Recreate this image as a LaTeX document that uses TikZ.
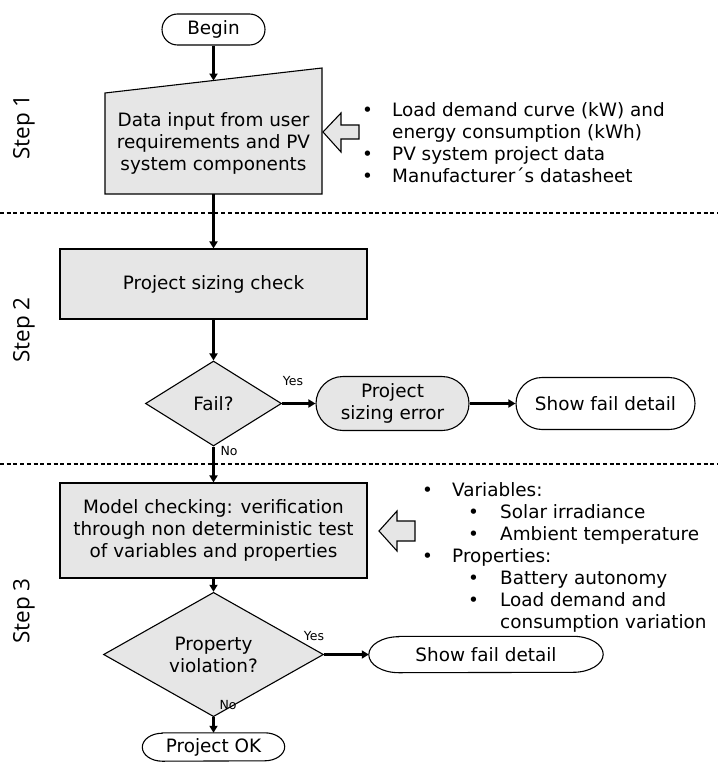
\documentclass[tikz,border=0pt]{standalone}
\usepackage{fontspec}
\setmainfont{DejaVu Sans}
\newfontfamily\stepfont{Open Sans}
\usetikzlibrary{arrows.meta,shapes.geometric}
\definecolor{boxgray}{HTML}{E6E6E6}
\begin{document}
\begin{tikzpicture}[x=1pt,y=-1pt,
  every node/.style={font=\fontsize{18.4}{22}\selectfont, inner sep=0pt},
  outline/.style={draw, line width=1.1pt},
  box/.style={outline, fill=boxgray, minimum width=307pt, align=center},
  pill/.style={outline, align=center},
  decision/.style={outline, fill=boxgray, diamond, align=center},
  arr/.style={line width=2.5pt, -{Triangle[length=7pt,width=8pt]}},
  lbl/.style={font=\fontsize{12.5}{15}\selectfont},
  stepl/.style={font=\stepfont\fontsize{22.5}{26}\selectfont, rotate=90},
  dashline/.style={line width=1.2pt, dash pattern=on 4pt off 2.7pt},
  hollow/.style={outline, fill=boxgray},
  listtext/.style={anchor=base west, align=left}
]
\useasboundingbox (0,0) rectangle (718,778);

% separators
\draw[dashline] (0,213) -- (718,213);
\draw[dashline] (0,464) -- (718,464);

% step labels
\node[stepl] (s1) at (24,127) {Step 1};
\node[stepl] (s2) at (24,330) {Step 2};
\node[stepl] (s3) at (24,611) {Step 3};

% begin
\node[pill, minimum width=103pt, minimum height=31pt, rounded corners=15.5pt] (begin) at (213.5,29.5) {Begin};

% manual input trapezoid
\coordinate (tl) at (105,93);
\coordinate (tr) at (322,68);
\coordinate (br) at (322,194);
\coordinate (bl) at (105,194);
\draw[outline, fill=boxgray] (tl) -- (tr) -- (br) -- (bl) -- cycle;
\node[align=center] (data) at (213.5,143) {Data input from user\\requirements and PV\\system components};
\coordinate (datatop) at (213.5,80.6);
\coordinate (databot) at (213.5,194);

% hollow arrow 1
\draw[hollow] (323,132) -- (341,113) -- (341,125) -- (359,125) -- (359,139) -- (341,139) -- (341,152) -- cycle;

\node[listtext] (list1) at (362,182.5) {\makebox[30pt][l]{•}Load demand curve (kW) and\\\hspace*{30pt}energy consumption (kWh)\\\makebox[30pt][l]{•}PV system project data\\\makebox[30pt][l]{•}Manufacturer´s datasheet};

% step 2
\node[box, minimum height=70pt] (check) at (213.5,284) {Project sizing check};
\node[decision, minimum width=136pt, minimum height=85pt] (fail) at (213.5,403.5) {Fail?};
\node[pill, fill=boxgray, minimum width=153pt, minimum height=54pt, rounded corners=27pt] (err) at (392.5,403.5) {Project\\sizing error};
\node[pill, minimum width=179pt, minimum height=52pt, rounded corners=26pt] (show1) at (605.5,403.5) {Show fail detail};
\node[lbl] (yes1) at (293,381) {Yes};
\node[lbl] (no1) at (229,451) {No};

% step 3
\node[box, minimum height=95pt] (model) at (213.5,530.5) {Model checking: verification\\through non deterministic test\\of variables and properties};
\draw[hollow] (379,531) -- (397,511) -- (397,521) -- (415,521) -- (415,541) -- (397,541) -- (397,551) -- cycle;
\node[listtext] (list2) at (422,628) {\makebox[30pt][l]{•}Variables:\\\hspace*{46pt}\makebox[32pt][l]{•}Solar irradiance\\\hspace*{46pt}\makebox[32pt][l]{•}Ambient temperature\\\makebox[30pt][l]{•}Properties:\\\hspace*{46pt}\makebox[32pt][l]{•}Battery autonomy\\\hspace*{46pt}\makebox[32pt][l]{•}Load demand and\\\hspace*{78pt}consumption variation};

\node[decision, minimum width=220pt, minimum height=85pt] (prop) at (213.5,654.5) {Property\\violation?};
\node[minimum width=234pt, minimum height=36pt] (show2) at (486,654.5) {Show fail detail};
\draw[outline] ([xshift=30pt]show2.north west) -- ([xshift=-30pt]show2.north east)
  arc[start angle=90, end angle=-90, x radius=30pt, y radius=18pt]
  -- ([xshift=30pt]show2.south west)
  arc[start angle=270, end angle=90, x radius=30pt, y radius=18pt] -- cycle;
\node[minimum width=142pt, minimum height=28pt] (ok) at (213.5,747) {Project OK};
\draw[outline] ([xshift=20pt]ok.north west) -- ([xshift=-20pt]ok.north east)
  arc[start angle=90, end angle=-90, x radius=20pt, y radius=14pt]
  -- ([xshift=20pt]ok.south west)
  arc[start angle=270, end angle=90, x radius=20pt, y radius=14pt] -- cycle;
\node[lbl] (yes2) at (314,636) {Yes};
\node[lbl] (no2) at (228,705) {No};

% connectors
\draw[arr] (begin) -- (datatop);
\draw[arr] (databot) -- (check);
\draw[arr] (check) -- (fail);
\draw[arr] (fail) -- (err);
\draw[arr] (err) -- (show1);
\draw[arr] (fail) -- (model);
\draw[arr] (model) -- (prop);
\draw[arr] (prop) -- (show2);
\draw[arr] (prop) -- (ok);
\end{tikzpicture}
\end{document}
